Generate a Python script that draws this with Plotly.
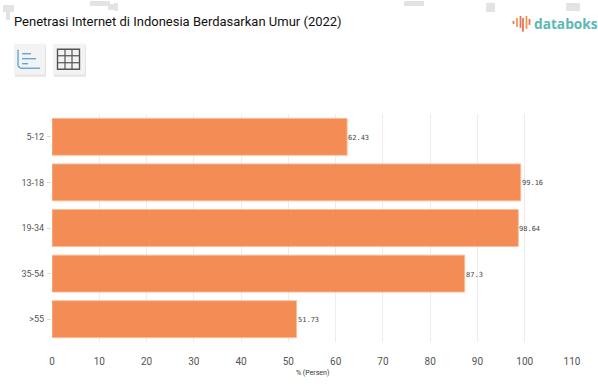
import plotly.graph_objects as go

# Internet penetration by age group
age_groups = ["5-12", "13-18", "19-34", "35-54", ">55"]
penetration = [62.43, 99.16, 98.64, 87.3, 51.73]
value_labels = ["62.43", "99.16", "98.64", "87.3", "51.73"]
x_ticks = [0, 10, 20, 30, 40, 50, 60, 70, 80, 90, 100, 110]

WIDTH, HEIGHT = 598, 387
LEFT, RIGHT, TOP, BOTTOM = 52, 572, 113.5, 342.5


def px(x):
    return (x - LEFT) / (RIGHT - LEFT)


def py(y):
    return (BOTTOM - y) / (BOTTOM - TOP)


def box(x0, y0, x1, y1, **kw):
    return dict(type="rect", xref="paper", yref="paper", x0=px(x0), x1=px(x1),
                y0=py(y1), y1=py(y0), layer="above", **kw)


def seg(x0, y0, x1, y1, color, width=1.2):
    return dict(type="line", xref="paper", yref="paper", x0=px(x0), x1=px(x1),
                y0=py(y0), y1=py(y1), layer="above", line=dict(color=color, width=width))


fig = go.Figure(go.Bar(
    x=penetration,
    y=age_groups,
    orientation="h",
    marker=dict(color="rgba(243,128,66,0.9)",
                line=dict(color="rgba(250,190,150,0.9)", width=1)),
    hoverinfo="skip",
))

shapes = []

# Chart / table toggle buttons
BLUE, DARK = "#4a9bd0", "#555555"
for x0, x1 in [(14, 45), (53, 85)]:
    shapes.append(box(x0 + 1, 44, x1 + 1, 76, fillcolor="#e4e4e4", line=dict(width=0)))
    shapes.append(box(x0, 43, x1, 74, fillcolor="#f3f3f3", line=dict(width=0)))

shapes += [
    seg(18, 49, 18, 65, BLUE),
    seg(18, 65, 20, 67, BLUE),
    seg(20, 67.5, 40, 67.5, BLUE),
    seg(22, 53, 31, 53, BLUE),
    seg(22, 58, 36, 58, BLUE),
    seg(22, 63, 28, 63, BLUE),
    box(57.5, 48.5, 79.5, 68.5, fillcolor="rgba(0,0,0,0)", line=dict(color=DARK, width=1.4)),
    seg(65, 48.5, 65, 68.5, DARK),
    seg(72, 48.5, 72, 68.5, DARK),
    seg(57.5, 55, 79.5, 55, DARK),
    seg(57.5, 62, 79.5, 62, DARK),
]

# Logo mark: fan of rounded strokes beside the wordmark
logo_strokes = [
    (513.5, 20, 23, "#e8735c"), (517, 17, 26, "#ef9a4a"), (520.5, 15, 27, "#e8735c"),
    (523, 17, 31, "#e8735c"), (526.5, 15, 28, "#ef9a4a"), (529.5, 18, 24, "#e8735c"),
]
for x, y0, y1, color in logo_strokes:
    shapes.append(seg(x, y0, x, y1, color, 1.8))

# Pale grey specks along the top edge
for x0, y0, x1, y1 in [(3, 4, 14, 11), (6, 11, 10, 19), (90, 0, 110, 5), (108, 3, 118, 9),
                       (114, 2, 118, 10), (404, 0, 424, 5), (486, 2, 495, 11),
                       (566, 2, 580, 10)]:
    shapes.append(box(x0, y0, x1, y1, fillcolor="#e3e3e3", line=dict(width=0)))

# Value labels sit just past the end of each bar
annotations = [
    dict(text=label, x=value, y=group, xref="x", yref="y", xanchor="left", yanchor="middle",
         showarrow=False, xshift=0, yshift=-1, borderpad=0,
         font=dict(family="DejaVu Sans Mono", size=7, color="#444444"))
    for label, value, group in zip(value_labels, penetration, age_groups)
]

annotations += [
    dict(text="Penetrasi Internet di Indonesia Berdasarkan Umur (2022)",
         xref="paper", yref="paper", x=px(11.5), y=py(21), xanchor="left", yanchor="middle",
         showarrow=False, font=dict(family="Roboto", size=13, color="#111111")),
    dict(text="<b>databoks</b>",
         xref="paper", yref="paper", x=px(532), y=py(23), xanchor="left", yanchor="middle",
         showarrow=False, font=dict(family="Open Sans", size=13.7, color="#5cb8b2")),
    dict(text="% (Persen)",
         xref="paper", yref="paper", x=px(312), y=py(374), xanchor="center", yanchor="middle",
         showarrow=False, font=dict(family="Roboto", size=7, color="#333333")),
]

fig.update_layout(
    width=WIDTH,
    height=HEIGHT,
    margin=dict(l=LEFT, r=WIDTH - RIGHT, t=TOP, b=HEIGHT - BOTTOM, pad=0),
    paper_bgcolor="white",
    plot_bgcolor="white",
    showlegend=False,
    bargap=0.19,
    font=dict(family="Roboto", color="#555555", size=10),
    shapes=shapes,
    annotations=annotations,
    xaxis=dict(
        range=[0, 110],
        tickvals=x_ticks,
        showgrid=True,
        gridcolor="#ececec",
        gridwidth=1,
        zeroline=False,
        showline=False,
        ticks="",
        tickfont=dict(size=10, color="#555555"),
        ticklabelstandoff=12,
    ),
    yaxis=dict(
        categoryorder="array",
        categoryarray=age_groups,
        autorange="reversed",
        showgrid=False,
        zeroline=False,
        showline=False,
        ticks="outside",
        ticklen=4,
        tickcolor="#dddddd",
        tickfont=dict(size=9, color="#555555"),
        ticklabelstandoff=1,
    ),
)

fig.write_html("out.html")
